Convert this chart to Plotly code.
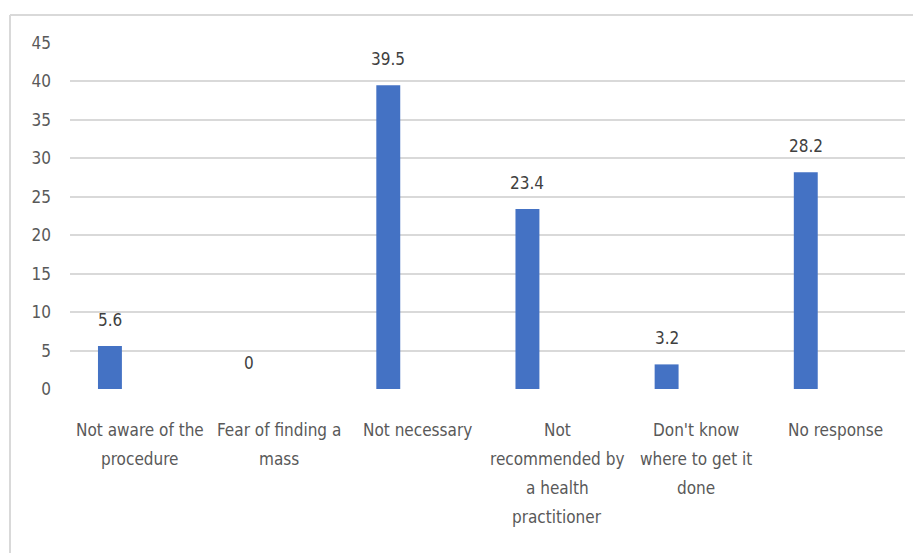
import plotly.graph_objects as go

categories = [
    "Not aware of the<br>procedure",
    "Fear of finding a<br>mass",
    "Not necessary",
    "Not<br>recommended by<br>a health<br>practitioner",
    "Don't know<br>where to get it<br>done",
    "No response",
]
values = [5.6, 0, 39.5, 23.4, 3.2, 28.2]
y_ticks = [0, 5, 10, 15, 20, 25, 30, 35, 40, 45]

FONT = "DejaVu Sans Condensed, Liberation Sans Narrow, Roboto, sans-serif"
GRAY = "#595959"
FS = 17

fig = go.Figure()
fig.add_trace(go.Bar(
    x=list(range(len(categories))),
    y=values,
    width=0.172,
    offset=-0.299,
    marker=dict(color="#4472C4", line=dict(width=0)),
    hoverinfo="skip",
))

# value labels
for i, v in enumerate(values):
    fig.add_annotation(
        x=i - 0.213, y=v, xref="x", yref="y",
        text=f"{v:g}", showarrow=False,
        yanchor="middle", yshift=26,
        font=dict(family=FONT, size=FS, color="#404040"),
    )

# category labels (one annotation per line to match wider line spacing)
for i, cat in enumerate(categories):
    for k, line in enumerate(cat.split("<br>")):
        fig.add_annotation(
            x=i, y=0, xref="x", yref="y",
            text=line, showarrow=False,
            xanchor="center", yanchor="middle",
            yshift=-41 - 29 * k,
            font=dict(family=FONT, size=FS, color=GRAY),
        )

# chart border (top and left only visible)
fig.add_shape(type="line", xref="paper", yref="paper",
              x0=(10 - 70) / 835, x1=1.2, y0=(389 - 15) / 346, y1=(389 - 15) / 346,
              line=dict(color="#d9d9d9", width=2))
fig.add_shape(type="line", xref="paper", yref="paper",
              x0=(10 - 70) / 835, x1=(10 - 70) / 835, y0=-1, y1=(389 - 15) / 346,
              line=dict(color="#d9d9d9", width=2))

fig.update_layout(
    width=913, height=553,
    margin=dict(l=70, r=8, t=43, b=164),
    paper_bgcolor="white", plot_bgcolor="white",
    showlegend=False,
    font=dict(family=FONT, size=FS, color=GRAY),
    xaxis=dict(
        range=[-0.5, 5.5],
        tickmode="array",
        tickvals=list(range(len(categories))),
        ticktext=[""] * len(categories),
        showgrid=False, zeroline=False, showline=False,
        ticks="",
    ),
    yaxis=dict(
        range=[0, 45],
        tickmode="array",
        tickvals=y_ticks,
        showgrid=True, gridcolor="#d9d9d9", gridwidth=1.5,
        zeroline=False, showline=False,
        ticks="", ticklabelstandoff=18,
        tickfont=dict(family=FONT, size=FS, color=GRAY),
    ),
)

fig.write_html("out.html")
